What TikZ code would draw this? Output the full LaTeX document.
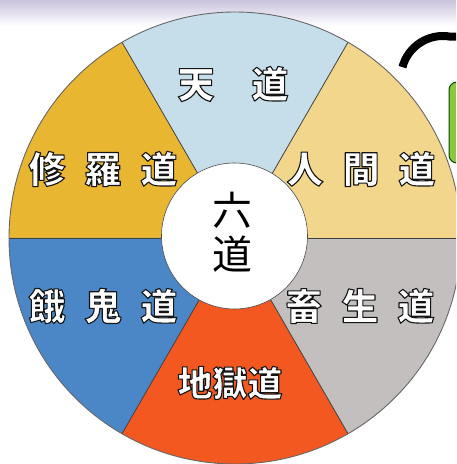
\documentclass[tikz,border=0pt]{standalone}
\usepackage{fontspec}
\newfontfamily\cjk{Noto Sans CJK JP}
\definecolor{tendo}{HTML}{C6DEEA}
\definecolor{ningen}{HTML}{F1D68C}
\definecolor{shura}{HTML}{E9B632}
\definecolor{gaki}{HTML}{4B87C6}
\definecolor{chiku}{HTML}{C3BFBE}
\definecolor{jigoku}{HTML}{F2581F}
\definecolor{lav}{HTML}{C9C3DD}
\definecolor{grn}{HTML}{8DC63F}
\newcommand\olt[1]{{\color{white}\special{pdf:literal direct 0.08 0.08 0.08 RG 1.1 w 1 j 2 Tr}#1\special{pdf:literal direct 0 Tr}}}
\tikzset{
  sector/.style={draw=black!75, line width=0.8pt},
  lbl/.style={inner sep=0pt, font=\cjk\bfseries\fontsize{37}{40}\selectfont},
}
\begin{document}
\begin{tikzpicture}[x=1pt,y=1pt]
\useasboundingbox (0,0) rectangle (456,464);
\fill[white] (0,0) rectangle (456,464);
\shade[top color=lav, bottom color=white] (0,438) rectangle (456,464);
\begin{scope}
\clip (0,0) rectangle (456,464);
\coordinate (C) at (235,226);
\fill[tendo]  (C) -- ++(60:226) arc (60:120:226) -- cycle;
\fill[shura]  (C) -- ++(120:226) arc (120:180:226) -- cycle;
\fill[gaki]   (C) -- ++(180:226) arc (180:240:226) -- cycle;
\fill[jigoku] (C) -- ++(240:226) arc (240:300:226) -- cycle;
\fill[chiku]  (C) -- ++(300:226) arc (300:360:226) -- cycle;
\fill[ningen] (C) -- ++(0:226) arc (0:60:226) -- cycle;
\foreach \a in {0,60,120,180,240,300} \draw[sector] (C) -- ++(\a:226);
\draw[black!60, line width=0.9pt] (C) circle (226);
\fill[white] (234.5,228) circle (73);
\draw[black!70, line width=0.6pt] (234.5,228) circle (73);
% partial items at right edge
\draw[black, line width=8pt] (443,386) ++(165:42) arc (165:80:42) -- ++(20,0);
\draw[fill=grn, draw=green!30!black, line width=1pt, rounded corners=8pt] (449,301) rectangle (475,382);
\end{scope}
\node[lbl] (ten) at (233,380) {\olt{天}\hspace{37pt}\olt{道}};
\node[lbl] (shura) at (103,295) {\olt{修}\hspace{19pt}\olt{羅}\hspace{19pt}\olt{道}};
\node[lbl] (ningen) at (361,295) {\olt{人}\hspace{19pt}\olt{間}\hspace{19pt}\olt{道}};
\node[lbl] (gaki) at (103,158) {\olt{餓}\hspace{19pt}\olt{鬼}\hspace{19pt}\olt{道}};
\node[lbl] (chiku) at (360,158) {\olt{畜}\hspace{19pt}\olt{生}\hspace{19pt}\olt{道}};
\node[lbl, font=\cjk\bfseries\fontsize{35}{38}\selectfont] (jigoku) at (230,81) {\olt{地獄道}};
\node[inner sep=0pt, align=center, font=\cjk\fontsize{40}{44}\selectfont] (rokudo) at (232,232) {六\\道};
\end{tikzpicture}
\end{document}
